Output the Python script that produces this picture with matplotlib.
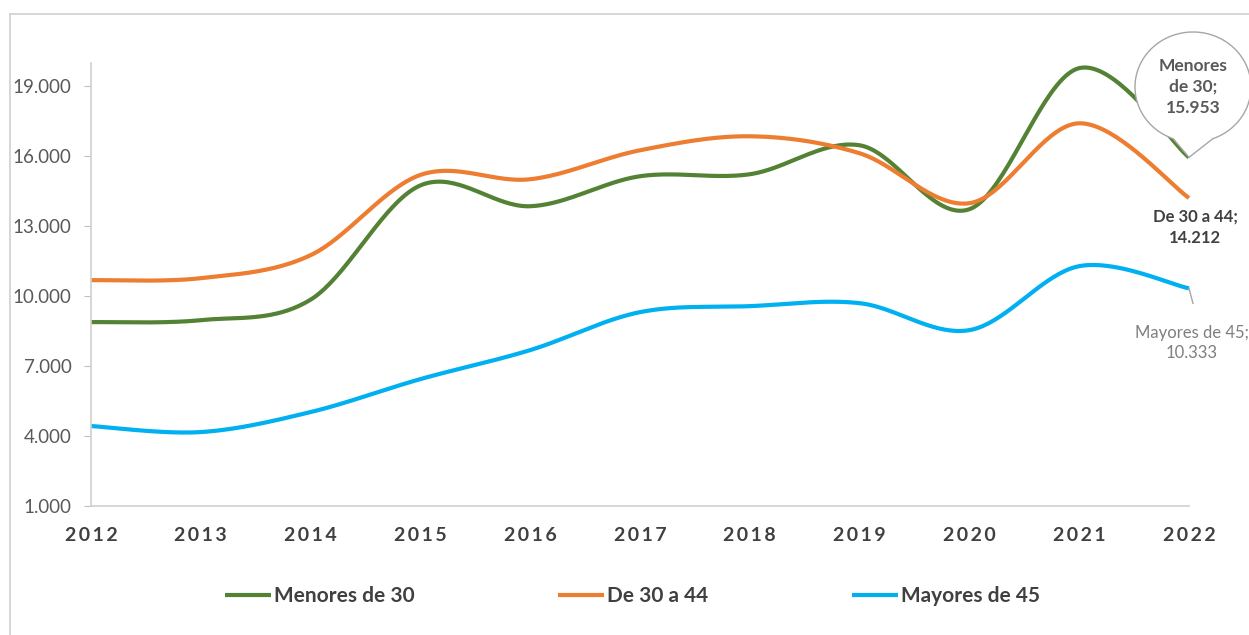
import numpy as np
import matplotlib
matplotlib.use('Agg')
import matplotlib.pyplot as plt
from matplotlib.path import Path
from matplotlib.patches import PathPatch
from matplotlib.transforms import IdentityTransform, ScaledTranslation

plt.rcParams['font.family'] = ['Lato', 'DejaVu Sans']

years = [2012, 2013, 2014, 2015, 2016, 2017, 2018, 2019, 2020, 2021, 2022]
menores_30 = [8886, 8971, 9850, 14750, 13857, 15143, 15229, 16471, 13729, 19780, 15953]
de_30_a_44 = [10686, 10771, 11757, 15200, 15014, 16257, 16857, 16129, 13986, 17414, 14212]
mayores_45 = [4429, 4171, 5029, 6443, 7686, 9314, 9571, 9700, 8543, 11286, 10333]

series = [
    ('Menores de 30', menores_30, '#548235'),
    ('De 30 a 44', de_30_a_44, '#ED7D31'),
    ('Mayores de 45', mayores_45, '#00B0F0'),
]
y_ticks = [1000, 4000, 7000, 10000, 13000, 16000, 19000]


def fmt(v):
    return f'{v:,}'.replace(',', '.')


def smooth(xs, ys, n=40):
    # curva suavizada tipo Excel (Bezier con tangentes Catmull-Rom)
    xs = np.asarray(xs, float)
    ys = np.asarray(ys, float)
    px = np.concatenate([[xs[0]], xs, [xs[-1]]])
    py = np.concatenate([[ys[0]], ys, [ys[-1]]])
    outx, outy = [], []
    t = np.linspace(0, 1, n)
    for i in range(1, len(px) - 2):
        p0 = np.array([px[i], py[i]])
        p3 = np.array([px[i + 1], py[i + 1]])
        c1 = p0 + (p3 - np.array([px[i - 1], py[i - 1]])) / 6
        c2 = p3 - (np.array([px[i + 2], py[i + 2]]) - p0) / 6
        b = ((1 - t) ** 3)[:, None] * p0 + (3 * (1 - t) ** 2 * t)[:, None] * c1 \
            + (3 * (1 - t) * t ** 2)[:, None] * c2 + (t ** 3)[:, None] * p3
        outx.extend(b[:, 0])
        outy.extend(b[:, 1])
    return outx, outy


W, H = 1249, 635
fig = plt.figure(figsize=(W / 100, H / 100), dpi=100)
ax = fig.add_axes([91 / W, 1 - 506 / H, (1189 - 91) / W, (506 - 63) / H])

# marco exterior
fig.add_artist(plt.Line2D([10 / W, 10 / W], [0, 1 - 14 / H], transform=fig.transFigure,
                          color='#d0d0d0', lw=1.2))
fig.add_artist(plt.Line2D([10 / W, 1], [1 - 14 / H, 1 - 14 / H], transform=fig.transFigure,
                          color='#d0d0d0', lw=1.2))

for name, vals, col in series:
    sx, sy = smooth(years, vals)
    ax.plot(sx, sy, color=col, lw=3, label=name, solid_capstyle='butt', clip_on=False)

ax.set_xlim(2012, 2022)
ax.set_ylim(1000, 20000)
ax.set_yticks(y_ticks)
ax.set_yticklabels([fmt(v) for v in y_ticks], fontsize=13.5, color='#595959')
ax.set_xticks(years)
ax.set_xticklabels(['\u2009'.join(str(y)) for y in years], fontsize=14,
                   fontweight='bold', color='#404040')
ax.tick_params(axis='y', length=5, color='#bfbfbf', pad=9)
ax.tick_params(axis='x', length=0, pad=15)
for s in ['top', 'right']:
    ax.spines[s].set_visible(False)
for s in ['left', 'bottom']:
    ax.spines[s].set_color('#d0d0d0')
    ax.spines[s].set_linewidth(1.2)

# etiquetas de datos
fig.canvas.draw()
tx, ty = ax.transData.transform((years[-1], menores_30[-1]))
cx, cy = 1193, H - 87
a, b = 58, 55
ang = np.linspace(np.radians(-70), np.radians(250), 200)
pts = [(cx + a * np.cos(q), cy + b * np.sin(q)) for q in ang]
pts.append((tx, ty))
pts.append(pts[0])
codes = [Path.MOVETO] + [Path.LINETO] * (len(pts) - 2) + [Path.CLOSEPOLY]
bubble = PathPatch(Path(pts, codes), transform=IdentityTransform(), facecolor='white',
                   edgecolor='#a6a6a6', lw=1, zorder=5)
fig.add_artist(bubble)
fig.text(cx / W, cy / H, 'Menores\nde 30;\n' + fmt(menores_30[-1]),
         ha='center', va='center', fontsize=12.5, fontweight='bold', color='#595959',
         linespacing=1.4, zorder=6)

ax.text(years[-1], de_30_a_44[-1], 'De 30 a 44;\n' + fmt(de_30_a_44[-1]),
        ha='center', va='top', fontsize=12, fontweight='bold', color='#404040',
        linespacing=1.4, transform=ax.transData + ScaledTranslation(
            6 / 100, -11 / 100, fig.dpi_scale_trans))

bx, by = ax.transData.transform((years[-1], mayores_45[-1]))
fig.add_artist(plt.Line2D([bx / W, (bx + 4) / W], [by / H, (by - 15) / H],
                          transform=fig.transFigure, color='#a6a6a6', lw=1))
ax.text(years[-1], mayores_45[-1], 'Mayores de 45;\n' + fmt(mayores_45[-1]),
        ha='center', va='top', fontsize=12, color='#7f7f7f',
        linespacing=1.3, transform=ax.transData + ScaledTranslation(
            3 / 100, -37 / 100, fig.dpi_scale_trans))

fig.legend(loc='center left', bbox_to_anchor=(225 / W, 1 - 596 / H), ncol=3, frameon=False,
           handlelength=2.2, handletextpad=0.15, columnspacing=6.9, borderpad=0,
           borderaxespad=0, labelcolor='#404040', prop={'weight': 'bold', 'size': 15})

fig.savefig('out.png', dpi=100)
